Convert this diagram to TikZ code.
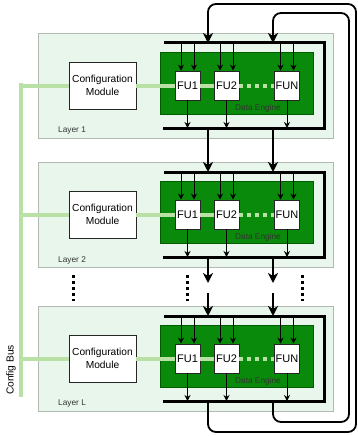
\documentclass[tikz,border=0pt]{standalone}
\usepackage{fontspec}
\setmainfont{Liberation Sans}
\usetikzlibrary{arrows.meta,calc}

\definecolor{layerfill}{HTML}{E8F6EC}
\definecolor{layerline}{HTML}{B2B8B2}
\definecolor{enginefill}{HTML}{0A8A0A}
\definecolor{engineline}{HTML}{005C00}
\definecolor{cfgbus}{HTML}{B9E0A5}

\tikzset{
 layerbox/.style={draw=layerline,fill=layerfill,line width=0.9pt},
 engine/.style={draw=engineline,fill=enginefill,line width=0.6pt},
 fubox/.style={draw=black!85,fill=white,line width=0.8pt,minimum width=25pt,minimum height=29pt,inner sep=0pt,font=\fontsize{11}{12}\selectfont},
 cfgmod/.style={draw=black!85,fill=white,line width=0.8pt,minimum width=67pt,minimum height=47pt,inner sep=0pt,align=center,font=\fontsize{10.2}{13}\selectfont},
 bus/.style={line width=3pt},
 cfgline/.style={cfgbus,line width=4pt},
 thinarr/.style={line width=0.9pt,-{Stealth[length=6pt,width=6pt,inset=2pt]}},
 wire/.style={line width=1.8pt,-{Stealth[length=10pt,width=10pt,inset=3pt]}},
 ellip/.style={line width=3pt,dash pattern=on 3pt off 3pt},
 smalltxt/.style={font=\fontsize{8.3}{10}\selectfont,inner sep=0pt}
}

\begin{document}
\begin{tikzpicture}[x=1pt,y=-1pt]
 \useasboundingbox (0,0) rectangle (358,436);

 % config bus on the left
 \coordinate (bustop) at (21,83);
 \coordinate (busend) at (21,397);
 \draw[cfgline] (bustop) -- (busend);
 \node[rotate=90,font=\fontsize{10.2}{12}\selectfont] (buslabel) at (11,370) {Config Bus};

 % the three layers
 \foreach \t/\name/\l in {33/1/1,162/2/2,306/L/3}{
  \draw[layerbox] (38,\t) rectangle (333,\t+105);
  \node[smalltxt,anchor=west,black!80] (layer\l) at (58,\t+98) {Layer \name};
  \draw[engine] (160,\t+19) rectangle (313,\t+81);
  \node[smalltxt,black!80] (de\l) at (258,\t+75) {Data Engine};

  \node[cfgmod] (cfg\l) at (102.5,\t+52.5) {Configuration\\Module};
  \node[fubox] (fuA\l) at (187.5,\t+52.5) {FU1};
  \node[fubox] (fuB\l) at (226.5,\t+52.5) {FU2};
  \node[fubox] (fuN\l) at (287,\t+52.5) {FUN};

  \draw[cfgline] ($(bustop|-cfg\l.west)+(-2,0)$) -- (cfg\l.west);
  \draw[cfgline] (cfg\l.east) -- (fuA\l.west);
  \draw[cfgline] (fuA\l.east) -- (fuB\l.west);
  \draw[cfgline,dash pattern=on 4pt off 4pt] (fuB\l.east) -- (fuN\l.west);

  % buses
  \coordinate (tl\l) at (164,\t+10);
  \coordinate (tr\l) at (324,\t+10);
  \coordinate (br\l) at (324,\t+95);
  \coordinate (bl\l) at (163,\t+95);
  \draw[bus] (tl\l) -- (tr\l) -- (br\l) -- (bl\l);
  \coordinate (inA\l) at (208,\t+10);
  \coordinate (inB\l) at (273,\t+10);
  \coordinate (outA\l) at (208,\t+95);
  \coordinate (outB\l) at (273,\t+95);

  \foreach \f in {fuA,fuB,fuN}{
   \draw[thinarr] ($(tl\l-|\f\l.north)+(-6.5,0)$) -- ($(\f\l.north)+(-6.5,0)$);
   \draw[thinarr] ($(tl\l-|\f\l.north)+(6.5,0)$) -- ($(\f\l.north)+(6.5,0)$);
   \draw[thinarr] (\f\l.south) -- (\f\l.south|-bl\l);
  }
 }

 % between the layers
 \coordinate (gapA1) at (208,283);
 \coordinate (gapA2) at (208,293);
 \coordinate (gapB1) at (273,283);
 \coordinate (gapB2) at (273,293);
 \draw[wire] (outA1) -- (inA2);
 \draw[wire] (outB1) -- (inB2);
 \draw[wire] (outA2) -- (gapA1);
 \draw[wire] (outB2) -- (gapB1);
 \draw[wire] (gapA2) -- (inA3);
 \draw[wire] (gapB2) -- (inB3);

 % feedback from the last layer
 \draw[wire,rounded corners=8pt] (outA3) -- (208,432) -- (356,432) -- (356,4) -- (208,4) -- (inA1);
 \draw[wire,rounded corners=8pt] (outB3) -- (273,422) -- (349,422) -- (349,13) -- (273,13) -- (inB1);

 % more layers
 \draw[ellip] (73,275) -- (73,301);
 \draw[ellip] (187,275) -- (187,301);
 \draw[ellip] (302,275) -- (302,301);
\end{tikzpicture}
\end{document}
